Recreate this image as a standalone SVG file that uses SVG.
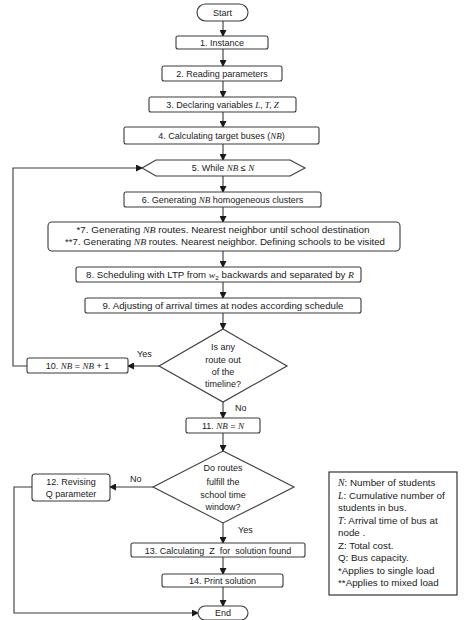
<svg xmlns="http://www.w3.org/2000/svg" width="472" height="620" viewBox="0 0 472 620">
<defs>
<marker id="ah" markerWidth="7" markerHeight="7" refX="6" refY="3.5" orient="auto" markerUnits="userSpaceOnUse">
<path d="M0,0 L7,3.5 L0,7 Z" fill="#1a1a1a"/>
</marker>
</defs>
<style>
.box{fill:#fff;stroke:#3a3a3a;stroke-width:1.1}
.t{font-family:"Liberation Sans",Arial,sans-serif;font-size:9px;fill:#1a1a1a;text-anchor:middle}
.l{font-family:"Liberation Sans",Arial,sans-serif;font-size:9px;fill:#1a1a1a}
.g{font-family:"Liberation Sans",Arial,sans-serif;font-size:9.8px;fill:#1a1a1a}
.m{font-family:"Liberation Serif","Times New Roman",serif;font-style:italic}
.c{fill:none;stroke:#3a3a3a;stroke-width:1.1}
</style>
<rect width="472" height="620" fill="#fff"/>
<g id="connectors">
<line class="c" x1="223" y1="21" x2="223" y2="36" marker-end="url(#ah)"/>
<line class="c" x1="223" y1="49" x2="223" y2="66" marker-end="url(#ah)"/>
<line class="c" x1="223" y1="81" x2="223" y2="97" marker-end="url(#ah)"/>
<line class="c" x1="223" y1="112" x2="223" y2="127" marker-end="url(#ah)"/>
<line class="c" x1="223" y1="144" x2="223" y2="160" marker-end="url(#ah)"/>
<line class="c" x1="223" y1="176" x2="223" y2="192" marker-end="url(#ah)"/>
<line class="c" x1="223" y1="207" x2="223" y2="222" marker-end="url(#ah)"/>
<line class="c" x1="223" y1="251" x2="223" y2="267" marker-end="url(#ah)"/>
<line class="c" x1="223" y1="282" x2="223" y2="298" marker-end="url(#ah)"/>
<line class="c" x1="223" y1="313" x2="223" y2="329" marker-end="url(#ah)"/>
<line class="c" x1="159" y1="366" x2="128" y2="366" marker-end="url(#ah)"/>
<polyline class="c" points="27,366 13,366 13,168 142,168" marker-end="url(#ah)"/>
<line class="c" x1="223" y1="402" x2="223" y2="418" marker-end="url(#ah)"/>
<line class="c" x1="223" y1="433" x2="223" y2="451" marker-end="url(#ah)"/>
<line class="c" x1="153" y1="487" x2="110" y2="487" marker-end="url(#ah)"/>
<polyline class="c" points="32,487 14,487 14,613 198,613" marker-end="url(#ah)"/>
<line class="c" x1="223" y1="523" x2="223" y2="543" marker-end="url(#ah)"/>
<line class="c" x1="223" y1="557" x2="223" y2="574" marker-end="url(#ah)"/>
<line class="c" x1="223" y1="587" x2="223" y2="606" marker-end="url(#ah)"/>
<text class="l" x="137" y="357">Yes</text>
<text class="l" x="235" y="411">No</text>
<text class="l" x="130" y="482">No</text>
<text class="l" x="238" y="533">Yes</text>
</g>
<g id="start">
<rect class="box" x="197" y="4" width="51" height="17" rx="8.5"/>
<text class="t" x="222.5" y="15.5">Start</text>
</g>
<g id="n1">
<rect class="box" x="176" y="36" width="92" height="13" rx="2"/>
<text class="t" x="222" y="45.5">1. Instance</text>
</g>
<g id="n2">
<rect class="box" x="162" y="66" width="120" height="15" rx="2"/>
<text class="t" x="222" y="76.5">2. Reading parameters</text>
</g>
<g id="n3">
<rect class="box" x="149" y="97" width="147" height="15" rx="2"/>
<text class="t" x="222.5" y="107.5">3. Declaring variables <tspan class="m">L, T, Z</tspan></text>
</g>
<g id="n4">
<rect class="box" x="124" y="127" width="195" height="17" rx="2"/>
<text class="t" x="221.5" y="138.5">4. Calculating target buses (<tspan class="m">NB</tspan>)</text>
</g>
<g id="n5">
<polygon class="box" points="142,168 156,160 290,160 305,168 290,176 156,176"/>
<text class="t" x="223" y="171">5. While <tspan class="m">NB</tspan> ≤ <tspan class="m">N</tspan></text>
</g>
<g id="n6">
<rect class="box" x="124" y="192" width="197" height="15" rx="2"/>
<text class="t" x="222.5" y="202.5">6. Generating <tspan class="m">NB</tspan> homogeneous clusters</text>
</g>
<g id="n7">
<rect class="box" x="48" y="222" width="352" height="29" rx="4"/>
<text class="t" x="223" y="233" textLength="293" lengthAdjust="spacingAndGlyphs">*7. Generating <tspan class="m">NB</tspan> routes. Nearest neighbor until school destination</text>
<text class="t" x="225" y="245" textLength="320" lengthAdjust="spacingAndGlyphs">**7. Generating <tspan class="m">NB</tspan> routes. Nearest neighbor.  Defining schools to be visited</text>
</g>
<g id="n8">
<rect class="box" x="76" y="267" width="285" height="15" rx="2"/>
<text class="t" x="220" y="277.5" textLength="268" lengthAdjust="spacingAndGlyphs">8. Scheduling with LTP from <tspan class="m">w</tspan><tspan font-size="6" dy="2">2</tspan><tspan dy="-2"> backwards and separated by </tspan><tspan class="m">R</tspan></text>
</g>
<g id="n9">
<rect class="box" x="85" y="298" width="276" height="15" rx="2"/>
<text class="t" x="223" y="308.5" textLength="241" lengthAdjust="spacingAndGlyphs">9. Adjusting of arrival times at nodes according schedule</text>
</g>
<g id="d1">
<polygon class="box" points="223,329 287,366 223,402 159,366"/>
<text class="t" x="223" y="350">Is any</text>
<text class="t" x="223" y="363">route out</text>
<text class="t" x="223" y="375">of the</text>
<text class="t" x="223" y="387">timeline?</text>
</g>
<g id="n10">
<rect class="box" x="27" y="358" width="101" height="15" rx="2"/>
<text class="t" x="77.5" y="368.5">10. <tspan class="m">NB</tspan> = <tspan class="m">NB</tspan> + 1</text>
</g>
<g id="n11">
<rect class="box" x="186" y="418" width="74" height="15" rx="2"/>
<text class="t" x="223" y="428.5">11. <tspan class="m">NB</tspan> = <tspan class="m">N</tspan></text>
</g>
<g id="d2">
<polygon class="box" points="223,451 294,487 223,523 153,487"/>
<text class="t" x="223" y="471">Do routes</text>
<text class="t" x="223" y="484.5">fulfill the</text>
<text class="t" x="223" y="497.5">school time</text>
<text class="t" x="223" y="510">window?</text>
</g>
<g id="n12">
<rect class="box" x="32" y="474" width="78" height="27" rx="3"/>
<text class="t" x="71" y="485">12. Revising</text>
<text class="t" x="71" y="496.5">Q parameter</text>
</g>
<g id="n13">
<rect class="box" x="131" y="543" width="174" height="14" rx="2"/>
<text class="t" x="218" y="553.5" xml:space="preserve">13. Calculating  Z  for  solution found</text>
</g>
<g id="n14">
<rect class="box" x="162" y="574" width="121" height="13" rx="2"/>
<text class="t" x="222.5" y="583.5">14. Print solution</text>
</g>
<g id="end">
<rect class="box" x="198" y="606" width="50" height="14" rx="7"/>
<text class="t" x="223" y="616">End</text>
</g>
<g id="legend">
<rect x="329" y="472" width="128" height="123" fill="#fff" stroke="#222" stroke-width="1.1"/>
<text class="g" x="338" y="486"><tspan class="m">N</tspan>: Number of students</text>
<text class="g" x="338" y="498.5"><tspan class="m">L</tspan>: Cumulative number of</text>
<text class="g" x="338" y="511">students in bus.</text>
<text class="g" x="338" y="523.5"><tspan class="m">T</tspan>: Arrival time of bus at</text>
<text class="g" x="338" y="536">node .</text>
<text class="g" x="338" y="548.5">Z: Total cost.</text>
<text class="g" x="338" y="561">Q: Bus capacity.</text>
<text class="g" x="338" y="573.5">*Applies to single load</text>
<text class="g" x="338" y="586">**Applies to mixed load</text>
</g>
</svg>
